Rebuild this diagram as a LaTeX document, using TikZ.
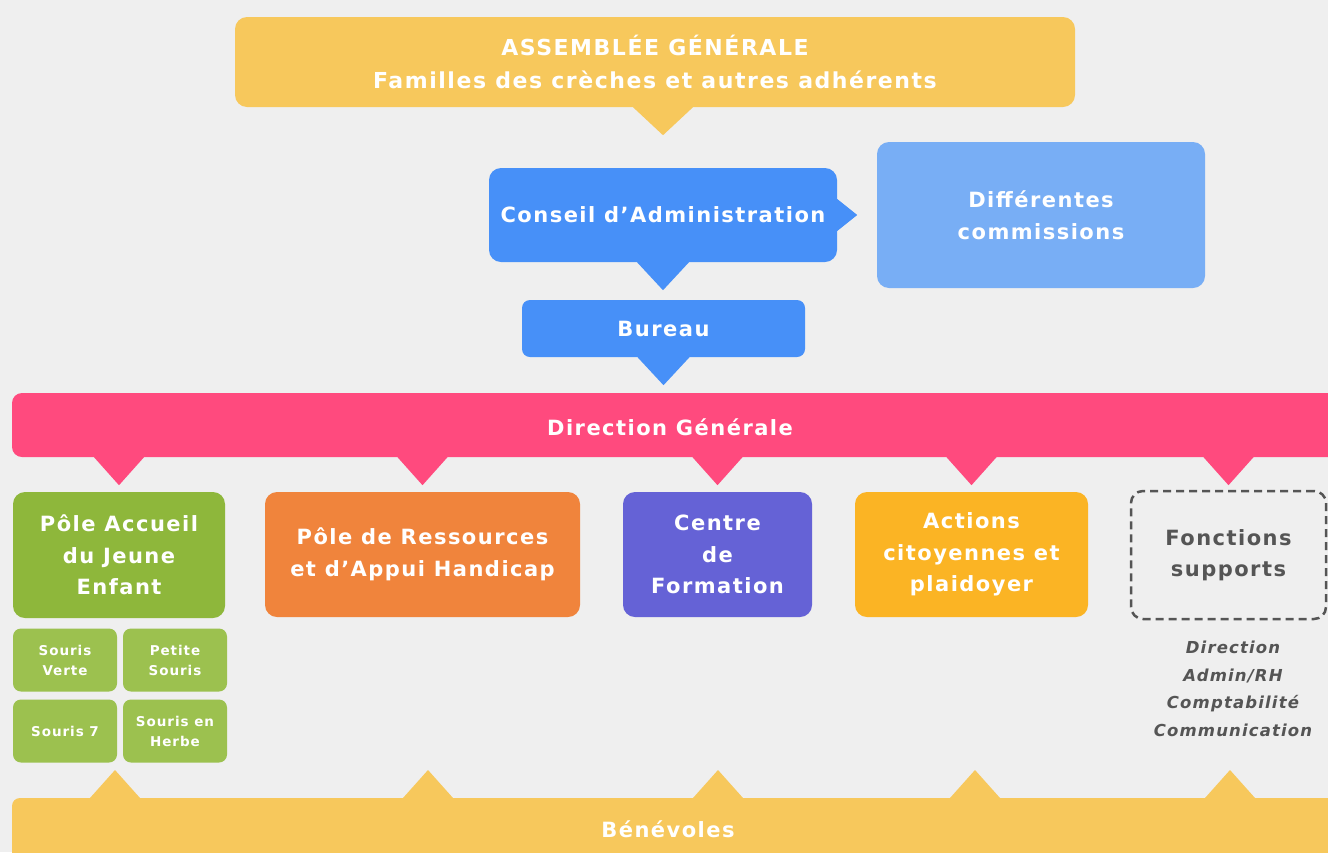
\documentclass[tikz,border=0pt]{standalone}
\usepackage{fontspec}
\setmainfont{DejaVu Sans}[LetterSpace=7]
\usetikzlibrary{calc}
\definecolor{bgc}{HTML}{EFEFEF}
\definecolor{agc}{HTML}{F7C85C}
\definecolor{bluec}{HTML}{4790F8}
\definecolor{lbluec}{HTML}{78AEF5}
\definecolor{pinkc}{HTML}{FF4A7E}
\definecolor{greenc}{HTML}{8EB73B}
\definecolor{lgreenc}{HTML}{9CC14F}
\definecolor{orangec}{HTML}{F0843C}
\definecolor{purplec}{HTML}{6562D6}
\definecolor{amberc}{HTML}{FBB424}
\definecolor{grayc}{HTML}{555555}
\newcommand{\ptrdown}[4]{\fill[#1] ($(#2)+(-#3,0)$) -- ($(#2)+(#3,0)$) -- ($(#2)+(0,#4)$) -- cycle;}
\newcommand{\ptrup}[4]{\fill[#1] ($(#2)+(-#3,0)$) -- ($(#2)+(#3,0)$) -- ($(#2)+(0,-#4)$) -- cycle;}
\begin{document}
\begin{tikzpicture}[x=1pt,y=-1pt,
  box/.style={rounded corners=12pt, inner sep=0pt, align=center, text=white,
    font=\bfseries\fontsize{21}{31.5}\selectfont},
  smallbox/.style={rounded corners=8pt, inner sep=0pt, align=center, text=white,
    fill=lgreenc, minimum width=104pt, minimum height=63pt,
    font=\bfseries\fontsize{13.5}{20}\selectfont}]
\fill[bgc] (0,0) rectangle (1328,852);
\useasboundingbox (0,0) rectangle (1328,852);
% top
\node[box, fill=agc, minimum width=840pt, minimum height=90pt, font=\bfseries\fontsize{22}{33}\selectfont] (ag) at (655,62) {ASSEMBLÉE GÉNÉRALE\\Familles des crèches et autres adhérents};
\node[box, fill=bluec, minimum width=348pt, minimum height=94pt] (ca) at (663,215) {Conseil d'Administration};
\node[box, fill=lbluec, minimum width=328pt, minimum height=146pt] (dc) at (1041,215) {Différentes\\commissions};
\node[box, rounded corners=8pt, fill=bluec, minimum width=283pt, minimum height=57pt] (bu) at (663.5,328.5) {Bureau};
\node[box, rounded corners=10pt, fill=pinkc, minimum width=1336pt, minimum height=64pt] (dg) at (680,425) {};
\node[text=white, inner sep=0pt, font=\bfseries\fontsize{21}{24}\selectfont] (dgt) at (670,427) {Direction Générale};
% pointers top
\ptrdown{agc}{ag.south -| ca.south}{30}{28}
\ptrdown{bluec}{ca.south}{26}{28}
\ptrdown{bluec}{bu.south}{26}{28}
\fill[bluec] ($(ca.east)+(0,-16)$) -- ($(ca.east)+(0,16)$) -- ($(ca.east)+(20,0)$) -- cycle;
% poles
\node[box, fill=greenc, minimum width=212pt, minimum height=126pt] (pa) at (119,555) {Pôle Accueil\\du Jeune\\Enfant};
\node[box, fill=orangec, minimum width=315pt, minimum height=125pt] (pr) at (422.5,554.5) {Pôle de Ressources\\et d'Appui Handicap};
\node[box, fill=purplec, minimum width=189pt, minimum height=125pt] (cf) at (717.5,554.5) {Centre\\de\\Formation};
\node[box, fill=amberc, minimum width=233pt, minimum height=125pt] (ac) at (971.5,554.5) {Actions\\citoyennes et\\plaidoyer};
\node[box, draw=grayc, dashed, line width=2.5pt, dash pattern=on 8pt off 5pt, text=grayc, minimum width=195pt, minimum height=128pt] (fs) at (1228.5,555) {Fonctions\\supports};
\node[align=center, text=grayc, inner sep=0pt, font=\bfseries\itshape\fontsize{16.5}{27.5}\selectfont] (fsl) at (1233,689) {Direction\\Admin/RH\\Comptabilité\\Communication};
% small boxes
\node[smallbox] (sv) at (65,660) {Souris\\Verte};
\node[smallbox] (ps) at (175,660) {Petite\\Souris};
\node[smallbox] (s7) at (65,731) {Souris 7};
\node[smallbox] (sh) at (175,731) {Souris en\\Herbe};
% DG pointers
\foreach \n in {pa,pr,cf,ac,fs} {\ptrdown{pinkc}{\n.north |- dg.south}{25}{28}}
% Benevoles
\node[box, rounded corners=8pt, fill=agc, minimum width=1336pt, minimum height=70pt] (be) at (680,833) {};
\node[text=white, inner sep=0pt, font=\bfseries\fontsize{21}{24}\selectfont] (bet) at (668,829) {Bénévoles};
\coordinate (bt1) at (115,798);
\coordinate (bt2) at (428,798);
\coordinate (bt3) at (718,798);
\coordinate (bt4) at (975,798);
\coordinate (bt5) at (1230,798);
\foreach \n in {bt1,bt2,bt3,bt4,bt5} {\ptrup{agc}{\n}{25}{28}}
\end{tikzpicture}
\end{document}
